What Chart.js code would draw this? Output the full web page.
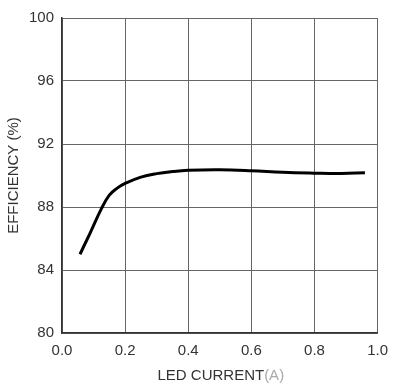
<!DOCTYPE html>
<html>
<head>
<meta charset="utf-8">
<script src="https://cdn.jsdelivr.net/npm/chart.js@4/dist/chart.umd.min.js"></script>
<style>
  body { margin: 0; background: #fff; }
  #wrap { width: 397px; height: 387px; }
</style>
</head>
<body>
<div id="wrap"><canvas id="chart" width="397" height="387"></canvas></div>
<script>
// LED current (A) and efficiency (%)
const ledCurrent = [0.057, 0.088, 0.125, 0.15, 0.175, 0.2, 0.25, 0.3, 0.35, 0.4, 0.5, 0.6, 0.7, 0.8, 0.885, 0.96];
const efficiency = [85.0, 86.3, 87.9, 88.75, 89.2, 89.5, 89.9, 90.12, 90.25, 90.33, 90.36, 90.3, 90.2, 90.15, 90.13, 90.17];

const xTicks = [0, 0.2, 0.4, 0.6, 0.8, 1.0];
const yTicks = [80, 84, 88, 92, 96, 100];

const fontFamily = "'Liberation Sans', Arial, sans-serif";

const points = ledCurrent.map((x, i) => ({ x: x, y: efficiency[i] }));

// x title: "LED CURRENT" in black, "(A)" in light grey
const xTitlePlugin = {
    id: 'xTitle',
    afterDraw(chart) {
        const ctx = chart.ctx;
        const area = chart.chartArea;
        const cx = (area.left + area.right) / 2 + 1;
        ctx.save();
        ctx.font = "15px " + fontFamily;
        ctx.textBaseline = 'middle';
        const a = "LED CURRENT";
        const b = "(A)";
        const wa = ctx.measureText(a).width;
        const wb = ctx.measureText(b).width;
        let x = cx - (wa + wb) / 2;
        ctx.textAlign = 'left';
        ctx.fillStyle = '#333';
        ctx.fillText(a, x, 376);
        ctx.fillStyle = '#aaa';
        ctx.fillText(b, x + wa, 376);
        ctx.restore();
    }
};

new Chart(document.getElementById('chart'), {
    type: 'line',
    data: {
        datasets: [{
            data: points,
            borderColor: '#000',
            borderWidth: 3,
            pointRadius: 0,
            fill: false,
            tension: 0.4
        }]
    },
    options: {
        responsive: false,
        animation: false,
        layout: { padding: { left: 0, right: 15, top: 18, bottom: 0 } },
        plugins: {
            legend: { display: false },
            tooltip: { enabled: false }
        },
        scales: {
            x: {
                type: 'linear',
                min: 0,
                max: 1,
                afterBuildTicks(scale) { scale.ticks = xTicks.map(v => ({ value: v })); },
                afterFit(scale) { scale.height = 54; },
                border: { color: '#333', width: 1.5 },
                grid: { color: '#666', lineWidth: 1, drawTicks: false },
                ticks: {
                    color: '#333',
                    padding: 9,
                    font: { family: fontFamily, size: 15 },
                    callback: v => v.toFixed(1)
                },
                title: { display: false }
            },
            y: {
                min: 80,
                max: 100,
                afterBuildTicks(scale) { scale.ticks = yTicks.map(v => ({ value: v })); },
                afterFit(scale) { scale.width = 62; },
                border: { color: '#333', width: 1.5 },
                grid: { color: '#666', lineWidth: 1, drawTicks: false },
                ticks: {
                    color: '#333',
                    padding: 8,
                    font: { family: fontFamily, size: 15 }
                },
                title: {
                    display: true,
                    text: 'EFFICIENCY (%)',
                    color: '#333',
                    font: { family: fontFamily, size: 15 },
                    padding: { top: 5, bottom: 0 }
                }
            }
        }
    },
    plugins: [xTitlePlugin]
});
</script>
</body>
</html>
